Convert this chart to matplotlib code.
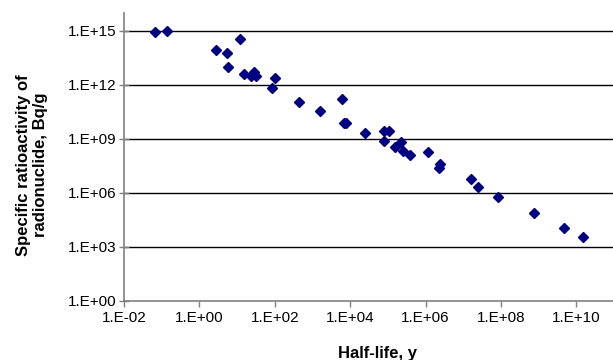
import matplotlib.pyplot as plt
from matplotlib.ticker import FixedLocator, FuncFormatter

plt.rcParams['font.family'] = ['Liberation Sans', 'DejaVu Sans']

# half-life (years) and specific activity (Bq/g)
half_life = [6.7e-2, 1.39e-1, 2.77, 5.4, 5.8, 12.2, 15.3, 23.5, 28.8, 31.3,
             84.7, 100, 442, 1590, 6210, 7015, 7925, 2.48e4, 7.78e4, 1.06e5,
             7.9e4, 1.52e5, 2.2e5, 2.53e5, 3.95e5, 1.19e6, 2.47e6, 2.28e6,
             1.64e7, 2.43e7, 8.2e7, 7.4e8, 4.6e9, 1.48e10]
activity = [9.1e14, 1.05e15, 9.1e13, 5.8e13, 1.0e13, 3.6e14, 4.0e12, 3.0e12, 5.0e12, 3.0e12,
            6.5e11, 2.3e12, 1.2e11, 3.5e10, 1.7e11, 7.4e9, 7.4e9, 2.24e9, 2.9e9, 2.9e9,
            7.4e8, 3.4e8, 6.5e8, 2.2e8, 1.35e8, 1.86e8, 4.2e7, 2.5e7,
            6.3e6, 2.2e6, 6.3e5, 7.4e4, 1.17e4, 3.4e3]

x_ticks = [1e-2, 1e0, 1e2, 1e4, 1e6, 1e8, 1e10]
y_ticks = [1e0, 1e3, 1e6, 1e9, 1e12, 1e15]


def excel_fmt(v, pos):
    s = f"{v:.0E}"
    mant, exp = s.split("E")
    return f"{mant}.E{exp[0]}{abs(int(exp)):02d}"


fig = plt.figure(figsize=(6.13, 3.6), dpi=100)
ax = fig.add_axes([124 / 613, 1 - 301 / 360, 1 - 124 / 613, (301 - 13) / 360])

ax.set_xscale('log')
ax.set_yscale('log')
ax.set_xlim(1e-2, 10 ** 10.97)
ax.set_ylim(1e0, 1e16)

for y in y_ticks[1:]:
    ax.axhline(y, color='black', lw=1.0, zorder=1)

ax.plot(half_life, activity, 'D', color='#000080', markersize=5, zorder=3)

ax.xaxis.set_major_locator(FixedLocator(x_ticks))
ax.yaxis.set_major_locator(FixedLocator(y_ticks))
ax.xaxis.set_minor_locator(FixedLocator([]))
ax.yaxis.set_minor_locator(FixedLocator([]))
ax.xaxis.set_major_formatter(FuncFormatter(excel_fmt))
ax.yaxis.set_major_formatter(FuncFormatter(excel_fmt))

ax.tick_params(axis='y', direction='inout', length=7, width=1, color='#808080',
               labelsize=11, pad=2)
ax.tick_params(axis='x', direction='out', length=4, width=1, color='#808080',
               labelsize=11, pad=3)

for side in ['top', 'right']:
    ax.spines[side].set_visible(False)
for side in ['left', 'bottom']:
    ax.spines[side].set_color('#808080')
    ax.spines[side].set_linewidth(1.2)

ax.set_xlabel("Half-life, y", fontsize=12, fontweight='bold', labelpad=10)
ax.xaxis.set_label_coords((378 - 124) / (613 - 124), -0.155)

fig.text(32 / 613, 1 - 165 / 360, "Specific ratioactivity of\nradionuclide, Bq/g",
         rotation=90, ha='center', va='center', multialignment='center',
         fontsize=12, fontweight='bold', linespacing=1.2)

plt.savefig("out.png", dpi=100)
plt.close()
